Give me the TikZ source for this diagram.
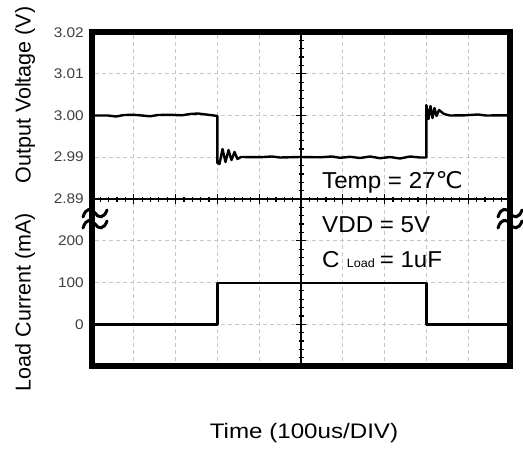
\documentclass[tikz,border=0pt]{standalone}
\usepackage{fontspec}
\setmainfont{Liberation Sans}
\newfontfamily\dejavu{DejaVu Sans}
\usetikzlibrary{positioning}

\tikzset{
  gridline/.style={draw=black!22,line width=1pt,dash pattern=on 4pt off 3pt},
  axisline/.style={draw=black,line width=1.3pt},
  tickmark/.style={draw=black,line width=1.2pt},
  trace/.style={draw=black,line width=2.4pt,line join=round,line cap=round},
  ticklabel/.style={anchor=east,inner sep=0pt,text=black!75,font=\fontsize{14}{14}\selectfont,xscale=1.1},
  axislabel/.style={rotate=90,inner sep=0pt,font=\fontsize{21.5}{21.5}\selectfont},
  note/.style={anchor=base west,inner sep=0pt,font=\fontsize{23}{23}\selectfont,xscale=1.05},
  breakmark/.style={draw=black,line width=3pt,line cap=round}
}

\begin{document}
\begin{tikzpicture}[x=1pt,y=-1pt]
\useasboundingbox (0,0) rectangle (523,450);
\coordinate (TL) at (92,32);
\coordinate (BR) at (510,366);

% grid
\foreach \i in {1,2,3,4,6,7,8,9}
  \draw[gridline] ({92+\i*41.8},35) -- ({92+\i*41.8},363);
\foreach \j in {1,2,3,5,6,7}
  \draw[gridline] (95,{32+\j*41.75}) -- (507,{32+\j*41.75});

% centre axes with ticks
\draw[axisline] (92,199) -- (510,199);
\draw[axisline] (301,32) -- (301,366);
\foreach \i in {1,...,49}
  \draw[tickmark] ({92+\i*8.36},196.5) -- ({92+\i*8.36},201.5);
\foreach \i in {1,...,9}
  \draw[tickmark] ({92+\i*41.8},194) -- ({92+\i*41.8},204);
\foreach \j in {1,...,39}
  \draw[tickmark] (298.5,{32+\j*8.35}) -- (303.5,{32+\j*8.35});
\foreach \j in {1,...,7}
  \draw[tickmark] (296,{32+\j*41.75}) -- (306,{32+\j*41.75});

% output voltage
\draw[trace] (95,115.5) -- (108,115.5) -- (116,116.5) -- (124,115) -- (134,114.8) -- (142,115.5)
  -- (150,116.3) -- (158,115) -- (170,114.8) -- (182,115.3) -- (190,114) -- (198,113.5)
  -- (206,114.5) -- (214,115.5) -- (217.4,116) -- (217.4,163) -- (219.5,164) -- (222.5,149)
  -- (225.5,162) -- (228.5,150) -- (231.5,160) -- (234.5,152) -- (237.5,159) -- (241,157)
  -- (260,157.2) -- (272,156.5) -- (280,157.5) -- (300,157) -- (320,157.3) -- (332,156.5)
  -- (340,157.8) -- (350,156.8) -- (360,158) -- (370,156.5) -- (380,158.2) -- (390,157)
  -- (400,158.5) -- (410,156.5) -- (420,157.5) -- (426.4,157.5) -- (426.4,105) -- (428.5,119)
  -- (430.5,106) -- (432.5,118) -- (434.5,108) -- (436.5,116) -- (439,110) -- (444,114)
  -- (450,115.5) -- (465,115.3) -- (478,114.5) -- (486,115.5) -- (507,115.3);

% load current
\draw[trace,line width=2.8pt,line cap=butt] (95,324.5) -- (217.4,324.5) -- (217.4,283) -- (426.4,283)
  -- (426.4,324.5) -- (507,324.5);

% frame
\draw[line width=6pt,line join=miter] (TL) rectangle (BR);

% axis breaks
\draw[breakmark] (83,217) .. controls (86,207) and (92,208) .. (95,213) .. controls (98,218) and (104,219) .. (107,210);
\draw[breakmark] (83,228) .. controls (86,218) and (92,219) .. (95,224) .. controls (98,229) and (104,230) .. (107,221);
\draw[breakmark] (498,217) .. controls (501,207) and (507,208) .. (510,213) .. controls (513,218) and (519,219) .. (522,210);
\draw[breakmark] (498,228) .. controls (501,218) and (507,219) .. (510,224) .. controls (513,229) and (519,230) .. (522,221);

% tick labels
\node[ticklabel] (v302) at (84,33) {3.02};
\node[ticklabel] (v301) at (84,74) {3.01};
\node[ticklabel] (v300) at (84,115.5) {3.00};
\node[ticklabel] (v299) at (84,157) {2.99};
\node[ticklabel] (v289) at (84,199) {2.89};
\node[ticklabel] (i200) at (84,241) {200};
\node[ticklabel] (i100) at (84,283) {100};
\node[ticklabel] (i0) at (84,325) {0};

% axis titles
\node[axislabel] (vtitle) at (25,95) {Output Voltage (V)};
\node[axislabel] (ititle) at (25,302) {Load Current (mA)};
\node[inner sep=0pt,font=\fontsize{21}{21}\selectfont,xscale=1.15] (ttitle) at (304,433) {Time (100us/DIV)};

% conditions
\node[note] (temp) at (322,188) {Temp = 27{\dejavu ℃}};
\node[note] (vdd) at (322,232) {VDD = 5V};
\node[note] (cload) at (322,267) {C\hspace{0.3em}{\fontsize{12}{12}\selectfont Load}\hspace{0.2em}= 1uF};
\end{tikzpicture}
\end{document}
